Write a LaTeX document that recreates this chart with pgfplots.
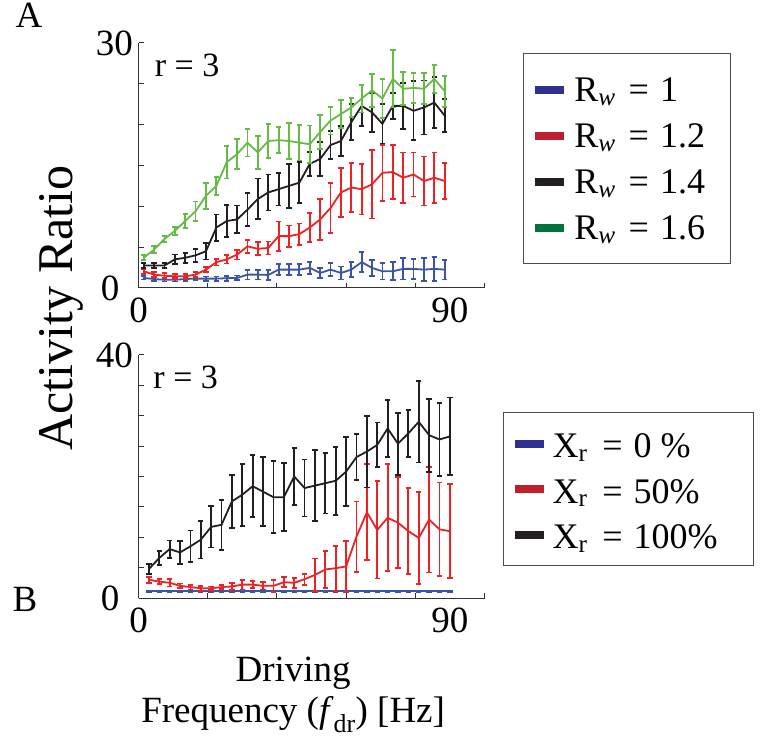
\documentclass[border=0pt]{standalone}
\usepackage{fontspec}
\setmainfont{Liberation Serif}
\usepackage{pgfplots}
\usepackage{pgfplotstable}
\pgfplotsset{compat=1.18}

\definecolor{pgreen}{HTML}{66BB44}
\definecolor{pred}{HTML}{EE2222}
\definecolor{pblack}{HTML}{231F20}
\definecolor{pblue}{HTML}{3A55A5}
\definecolor{lblue}{HTML}{2E3192}
\definecolor{lred}{HTML}{BE1E2D}
\definecolor{lblack}{HTML}{231F20}
\definecolor{lgreen}{HTML}{00733D}

\newcommand{\fs}{\fontsize{37bp}{41bp}\selectfont}
\newcommand{\fl}{\fontsize{36bp}{41bp}\selectfont}
\newcommand{\fr}{\fontsize{34bp}{38bp}\selectfont}

% ---- panel A data (x, mean, error) ----
\pgfplotstableread{
x y e
1.5 1.23 0.2
4.5 1.10 0.2
7.5 1.00 0.2
10.5 1.00 0.2
13.5 1.10 0.2
16.5 1.15 0.2
19.5 1.15 0.25
22.5 1.15 0.25
25.5 1.20 0.3
28.5 1.23 0.3
31.5 1.64 0.6
34.5 1.64 0.6
37.5 1.60 0.6
40.5 2.25 0.7
43.5 2.25 0.7
46.5 2.25 0.7
49.5 2.46 0.7
52.5 1.84 0.6
55.5 2.25 0.8
58.5 1.84 0.8
61.5 2.25 0.9
64.5 3.16 1.2
67.5 2.46 1.0
70.5 2.05 1.0
73.5 2.05 1.1
76.5 2.34 1.3
79.5 2.34 1.2
82.5 2.25 1.4
85.5 2.34 1.5
88.5 2.25 1.2
}\topblue

\pgfplotstableread{
x y e
1.5 2.05 0.3
4.5 1.64 0.3
7.5 1.50 0.3
10.5 1.43 0.3
13.5 1.43 0.3
16.5 1.64 0.3
19.5 2.25 0.3
22.5 3.16 0.4
25.5 3.50 0.5
28.5 4.10 0.6
31.5 5.10 0.8
34.5 4.80 0.8
37.5 4.90 0.8
40.5 6.35 1.8
43.5 6.35 1.3
46.5 6.60 1.3
49.5 7.40 1.8
52.5 8.40 2.5
55.5 9.80 3.1
58.5 11.7 3.0
61.5 12.3 3.0
64.5 12.1 3.1
67.5 12.7 4.2
70.5 14.1 3.4
73.5 14.2 3.3
76.5 13.5 3.1
79.5 13.9 2.7
82.5 13.1 3.0
85.5 13.5 3.1
88.5 13.1 2.2
}\topred

\pgfplotstableread{
x y e
1.5 2.75 0.3
4.5 2.75 0.3
7.5 2.75 0.3
10.5 3.50 0.6
13.5 3.70 0.6
16.5 4.00 0.8
19.5 4.50 1.0
22.5 7.40 1.6
25.5 8.20 2.0
28.5 8.40 1.7
31.5 9.60 2.0
34.5 10.9 2.5
37.5 11.7 2.2
40.5 12.1 2.0
43.5 12.5 2.7
46.5 12.9 2.5
49.5 15.2 1.5
52.5 15.8 2.1
55.5 17.5 1.7
58.5 18.0 1.8
61.5 20.3 2.2
64.5 22.3 2.5
67.5 21.5 2.4
70.5 20.1 2.4
73.5 22.3 1.6
76.5 22.3 2.8
79.5 21.7 3.6
82.5 22.1 3.3
85.5 22.7 3.1
88.5 21.1 2.0
}\topblack

\pgfplotstableread{
x y e
1.5 3.70 0.3
4.5 4.70 0.4
7.5 6.00 0.4
10.5 7.00 0.5
13.5 8.20 0.9
16.5 9.40 1.2
19.5 11.3 1.6
22.5 12.5 1.1
25.5 15.4 2.0
28.5 16.4 1.8
31.5 17.8 1.7
34.5 16.6 2.0
37.5 18.0 2.1
40.5 18.1 1.6
43.5 18.0 2.2
46.5 17.8 2.2
49.5 17.6 2.3
52.5 19.1 2.1
55.5 20.5 1.7
58.5 21.3 1.7
61.5 22.1 1.2
64.5 23.2 1.7
67.5 24.2 2.0
70.5 23.2 2.4
73.5 25.6 3.5
76.5 24.4 2.0
79.5 24.5 1.8
82.5 24.4 1.9
85.5 25.6 1.7
88.5 24.1 1.9
}\topgreen

% ---- panel B data ----
\pgfplotstableread{
x y e
3 1.1 0.12
6 1.1 0.12
9 1.1 0.12
12 1.1 0.12
15 1.1 0.12
18 1.1 0.12
21 1.1 0.12
24 1.1 0.12
27 1.1 0.12
30 1.1 0.12
33 1.1 0.12
36 1.1 0.12
39 1.1 0.12
42 1.1 0.12
45 1.1 0.12
48 1.1 0.12
51 1.1 0.12
54 1.1 0.12
57 1.1 0.12
60 1.1 0.12
63 1.1 0.12
66 1.1 0.12
69 1.1 0.12
72 1.1 0.12
75 1.1 0.12
78 1.1 0.12
81 1.1 0.12
84 1.1 0.12
87 1.1 0.12
90 1.1 0.12
}\botblue

\pgfplotstableread{
x y e
3 3.0 0.5
6 2.7 0.4
9 2.5 0.6
12 2.0 0.4
15 1.8 0.4
18 1.6 0.4
21 1.6 0.3
24 1.8 0.3
27 1.9 0.6
30 2.2 0.8
33 2.2 0.6
36 2.0 0.6
39 2.0 1.0
42 2.6 0.8
45 2.5 0.8
48 3.1 0.9
51 3.8 2.7
54 4.7 3.0
57 4.9 3.7
60 5.2 4.2
63 10.1 5.8
66 14.1 7.9
69 11.2 8.0
72 13.2 8.8
75 12.4 7.5
78 11.0 7.1
81 9.9 7.6
84 12.9 8.7
87 11.3 7.7
90 11.0 7.7
}\botred

\pgfplotstableread{
x y e
3 4.77 0.8
6 6.58 1.2
9 8.05 1.4
12 7.50 1.9
15 8.50 2.6
18 9.60 3.1
21 11.7 3.4
24 12.05 4.1
27 15.9 4.4
30 17.0 5.1
33 18.4 5.1
36 17.5 5.7
39 16.6 5.9
42 16.6 5.6
45 20.0 4.7
48 18.1 4.7
51 18.5 5.8
54 18.9 5.0
57 19.3 5.6
60 20.8 5.7
63 23.2 3.8
66 24.1 5.9
69 25.2 3.7
72 27.9 4.7
75 25.4 5.1
78 27.1 3.9
81 29.0 6.7
84 26.8 6.0
87 26.1 6.0
90 26.6 6.4
}\botblack

\pgfplotsset{
  panel/.style={
    scale only axis, width=346bp,
    xmin=0, xmax=100, ymin=0,
    axis x line*=bottom, axis y line*=left,
    axis line style={line width=1bp, color=black!80},
    every tick/.style={line width=1bp, color=black!80},
    major tick length=5bp, tick align=inside,
    xtick={20,40,60,80,100}, xticklabels={},
    extra x ticks={0,90}, extra x tick labels={0,90},
    extra x tick style={major tick length=0pt},
    ticklabel style={font=\fs},
    xticklabel style={yshift=-6bp},
    yticklabel style={xshift=-2bp},
    /pgf/number format/assume math mode=true,
    clip=false,
    legend cell align=left,
    legend image code/.code={\draw[line width=8bp] (0bp,0bp) -- (29bp,0bp);},
  },
  ebar/.style={line width=1.8bp, forget plot,
    error bars/.cd, y dir=both, y explicit,
    error bar style={line width=1.8bp},
    error mark options={rotate=90, mark size=2.7bp, line width=1.8bp}},
}

\begin{document}
\begin{tikzpicture}
\useasboundingbox (0bp,0bp) rectangle (761bp,740bp);

\node[anchor=base, font=\fs] at (29bp,712bp) {A};
\node[anchor=base, font=\fs] at (25bp,128bp) {B};
\node[rotate=90, anchor=base, font=\fontsize{50bp}{58bp}\selectfont] at (72bp,432bp) {Activity Ratio};

% ---------- Panel A ----------
\begin{axis}[panel,
  at={(138.5bp,452bp)}, anchor=south west, height=245bp,
  ymax=30, ytick={5,10,15,20,25}, yticklabels={},
  extra y ticks={0,30}, extra y tick labels={\makebox[32bp][l]{0},30},
  legend style={at={(axis description cs:1.111,0.959)}, anchor=north west,
    draw=black!70, line width=1bp, inner xsep=8bp, inner ysep=18bp,
    row sep=10bp, column sep=6bp,
    nodes={inner sep=0pt, text height=30bp, text depth=6bp, font=\fl}},
]
\addlegendimage{color=lblue}
\addlegendentry{\makebox[148bp][l]{R\textsubscript{\textit{w}}\hspace{4bp} = \hspace{2bp}1}}
\addlegendimage{color=lred}
\addlegendentry{\makebox[148bp][l]{R\textsubscript{\textit{w}}\hspace{4bp} = \hspace{2bp}1.2}}
\addlegendimage{color=lblack}
\addlegendentry{\makebox[148bp][l]{R\textsubscript{\textit{w}}\hspace{4bp} = \hspace{2bp}1.4}}
\addlegendimage{color=lgreen}
\addlegendentry{\makebox[148bp][l]{R\textsubscript{\textit{w}}\hspace{4bp} = \hspace{2bp}1.6}}

\addplot[pblue, ebar] table[x=x, y=y, y error=e] {\topblue};
\addplot[pred, ebar] table[x=x, y=y, y error=e] {\topred};
\addplot[pblack, ebar] table[x=x, y=y, y error=e] {\topblack};
\addplot[pgreen, ebar] table[x=x, y=y, y error=e] {\topgreen};

\node[anchor=base west, font=\fr] at (axis description cs:0.037,0.865) {r = 3};
\end{axis}

% ---------- Panel B ----------
\begin{axis}[panel,
  at={(138.5bp,142bp)}, anchor=south west, height=243bp,
  ymax=40, ytick={5,10,15,20,25,30,35}, yticklabels={},
  extra y ticks={0,40}, extra y tick labels={\makebox[32bp][l]{0},40},
  xlabel={Driving\\Frequency (\textit{f}\textsubscript{dr}) [Hz]},
  xlabel style={align=center, font=\fs, inner sep=0pt,
    at={(axis description cs:0.447,0)}, anchor=north, yshift=-59bp},
  legend style={at={(axis description cs:1.0535,0.765)}, anchor=north west,
    draw=black!70, line width=1bp, inner xsep=7bp, inner ysep=13.25bp,
    row sep=10bp, column sep=5bp,
    nodes={inner sep=0pt, text height=31.75bp, text depth=3.75bp, font=\fl}},
]
\addlegendimage{color=lblue}
\addlegendentry{\makebox[194bp][l]{X\textsubscript{r}\hspace{6bp} = \hspace{2bp}0 \%}}
\addlegendimage{color=lred}
\addlegendentry{\makebox[194bp][l]{X\textsubscript{r}\hspace{6bp} = \hspace{2bp}50\%}}
\addlegendimage{color=lblack}
\addlegendentry{\makebox[194bp][l]{X\textsubscript{r}\hspace{6bp} = \hspace{2bp}100\%}}

\addplot[pblue, ebar] table[x=x, y=y, y error=e] {\botblue};
\addplot[pred, ebar] table[x=x, y=y, y error=e] {\botred};
\addplot[pblack, ebar] table[x=x, y=y, y error=e] {\botblack};

\node[anchor=base west, font=\fr] at (axis description cs:0.033,0.864) {r = 3};
\end{axis}
\end{tikzpicture}
\end{document}
